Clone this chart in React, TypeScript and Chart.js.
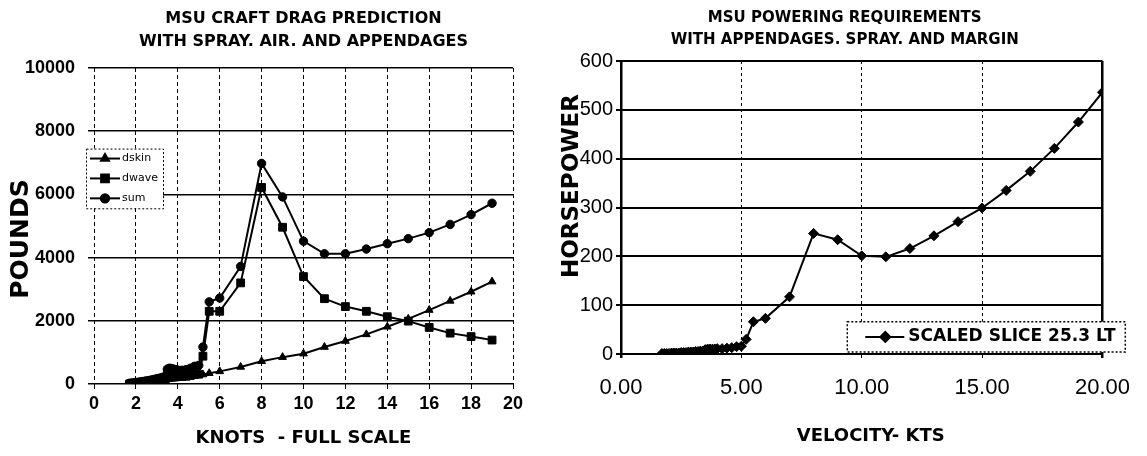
import React, { useEffect, useRef } from "react";
import { Chart, registerables } from "chart.js";
import { drawPoint } from "chart.js/helpers";

Chart.register(...registerables);

const FONT = '"DejaVu Sans", "Liberation Sans", sans-serif';
const TICK_FONT = '"Liberation Sans", Arial, sans-serif';

// ---------------- Left chart: drag prediction ----------------
const dragKnots = [1.7, 1.8, 1.9, 2.0, 2.1, 2.2, 2.3, 2.4, 2.5, 2.6, 2.7, 2.8, 2.9, 3.0, 3.1, 3.2, 3.3, 3.4, 3.5, 3.6, 3.7, 3.8, 3.9, 4.0, 4.2, 4.4, 4.6, 4.8, 5.0, 5.2, 5.5, 6, 7, 8, 9, 10, 11, 12, 13, 14, 15, 16, 17, 18, 19];
const dskin = [15, 18, 22, 25, 30, 34, 38, 42, 48, 52, 58, 62, 68, 75, 80, 86, 92, 100, 150, 160, 165, 170, 175, 180, 195, 215, 235, 255, 275, 300, 340, 400, 540, 720, 850, 960, 1170, 1360, 1570, 1810, 2060, 2340, 2630, 2920, 3240];
const dwave = [5, 8, 12, 16, 20, 25, 30, 36, 42, 48, 55, 62, 70, 80, 90, 100, 115, 130, 290, 310, 300, 285, 270, 255, 240, 245, 270, 300, 310, 880, 2300, 2300, 3200, 6220, 4960, 3400, 2700, 2450, 2300, 2130, 1990, 1790, 1610, 1500, 1390];
const dragSum = [25, 30, 38, 45, 55, 65, 75, 85, 98, 108, 120, 135, 150, 165, 180, 195, 215, 240, 470, 500, 490, 470, 455, 440, 435, 455, 500, 560, 590, 1170, 2600, 2720, 3720, 6980, 5920, 4520, 4120, 4120, 4270, 4440, 4600, 4790, 5050, 5360, 5720];
const dragSeriesNames = ["dskin", "dwave", "sum"];
const dragXTicks = [0, 2, 4, 6, 8, 10, 12, 14, 16, 18, 20];
const dragYTicks = [0, 2000, 4000, 6000, 8000, 10000];
const dragTitleLines = ["MSU CRAFT DRAG PREDICTION", "WITH SPRAY. AIR. AND APPENDAGES"];
const dragXTitle = "KNOTS  - FULL SCALE";
const dragYTitle = "POUNDS";

// ---------------- Right chart: powering requirements ----------------
const hpKnots = [1.7, 1.8, 1.9, 2.0, 2.1, 2.2, 2.3, 2.4, 2.5, 2.6, 2.7, 2.8, 2.9, 3.0, 3.1, 3.2, 3.3, 3.4, 3.5, 3.6, 3.7, 3.8, 3.9, 4.0, 4.2, 4.4, 4.6, 4.8, 5.0, 5.2, 5.5, 6, 7, 8, 9, 10, 11, 12, 13, 14, 15, 16, 17, 18, 19, 20];
const hpScaledSlice = [1, 1, 1, 1, 2, 2, 2, 2, 3, 3, 3, 4, 4, 4, 5, 5, 6, 6, 9, 10, 10, 10, 10, 11, 11, 12, 13, 15, 16, 30, 66, 73, 117, 247, 234, 201, 199, 216, 242, 271, 299, 335, 374, 421, 475, 536];
const hpSeriesName = "SCALED SLICE 25.3 LT";
const hpXTicks = [0, 5, 10, 15, 20];
const hpXTickLabels = ["0.00", "5.00", "10.00", "15.00", "20.00"];
const hpYTicks = [0, 100, 200, 300, 400, 500, 600];
const hpTitleLines = ["MSU POWERING REQUIREMENTS", "WITH APPENDAGES. SPRAY. AND MARGIN"];
const hpXTitle = "VELOCITY- KTS";
const hpYTitle = "HORSEPOWER";

const pts = (xs: number[], ys: number[]) => xs.map((x, i) => ({ x, y: ys[i] }));

function makeDragChart(canvas: HTMLCanvasElement) {
  const styles = [
    { pointStyle: "triangle", radius: 4.5 },
    { pointStyle: "rect", radius: 5.5 },
    { pointStyle: "circle", radius: 4.2 },
  ];
  const series = [dskin, dwave, dragSum];
  const textPlugin = {
    id: "dragText",
    afterDraw(chart: any) {
      const ctx = chart.ctx;
      const ca = chart.chartArea;
      const ys = chart.scales.y;
      const cx = (ca.left + ca.right) / 2;
      ctx.save();
      ctx.fillStyle = "#000";
      ctx.textAlign = "center";
      ctx.textBaseline = "middle";
      ctx.font = `bold 16px ${FONT}`;
      ctx.fillText(dragTitleLines[0], cx, 19);
      ctx.fillText(dragTitleLines[1], cx, 42);
      ctx.font = `bold 18px ${FONT}`;
      ctx.fillText(dragXTitle, cx, 438);
      ctx.save();
      ctx.translate(21, (ca.top + ca.bottom) / 2 + 13);
      ctx.rotate(-Math.PI / 2);
      ctx.font = `bold 25px ${FONT}`;
      ctx.fillText(dragYTitle, 0, 0);
      ctx.restore();

      // legend box
      const bl = ca.left - 8;
      const br = ca.left + 69;
      const bt = ys.getPixelForValue(7450);
      const bb = ys.getPixelForValue(5560);
      ctx.fillStyle = "#fff";
      ctx.fillRect(bl, bt, br - bl, bb - bt);
      ctx.strokeStyle = "#000";
      ctx.lineWidth = 1;
      ctx.setLineDash([2, 2]);
      ctx.strokeRect(bl + 0.5, bt + 0.5, br - bl, bb - bt);
      ctx.setLineDash([]);
      const fr = [1 / 6, 1 / 2, 5 / 6];
      for (let i = 0; i < 3; i++) {
        const y = bt + (bb - bt) * fr[i];
        ctx.strokeStyle = "#000";
        ctx.lineWidth = 2;
        ctx.beginPath();
        ctx.moveTo(bl + 4, y);
        ctx.lineTo(bl + 34, y);
        ctx.stroke();
        ctx.fillStyle = "#000";
        drawPoint(ctx, { pointStyle: styles[i].pointStyle as any, radius: styles[i].radius, borderWidth: 1, rotation: 0 }, bl + 19, y);
        ctx.fillStyle = "#000";
        ctx.textAlign = "left";
        ctx.textBaseline = "middle";
        ctx.font = `11px ${FONT}`;
        ctx.fillText(dragSeriesNames[i], bl + 36, y);
      }
      ctx.restore();
    },
  };

  return new Chart(canvas, {
    type: "line",
    data: {
      datasets: series.map((s, i) => ({
        label: dragSeriesNames[i],
        data: pts(dragKnots, s),
        borderColor: "#000",
        backgroundColor: "#000",
        borderWidth: 2,
        pointStyle: styles[i].pointStyle as any,
        pointRadius: styles[i].radius,
        pointBorderWidth: 1,
        tension: 0,
      })),
    },
    options: {
      responsive: false,
      animation: false,
      events: [],
      layout: { padding: { top: 68, right: 32, left: 0, bottom: 0 } },
      plugins: { legend: { display: false }, tooltip: { enabled: false }, title: { display: false } },
      scales: {
        x: {
          type: "linear",
          min: 0,
          max: 20,
          afterBuildTicks: (s: any) => {
            s.ticks = dragXTicks.map((v) => ({ value: v }));
          },
          afterFit: (s: any) => {
            s.height = 72;
          },
          ticks: {
            font: { family: TICK_FONT, size: 18, weight: "bold" },
            color: "#000",
            padding: 4,
            maxRotation: 0,
            autoSkip: false,
            callback: (v: any) => String(v),
          },
          grid: { color: "#000", lineWidth: 1, drawTicks: true, tickLength: 5, tickColor: "#000" },
          border: { display: false, dash: [4, 3] },
        },
        y: {
          type: "linear",
          min: 0,
          max: 10000,
          afterBuildTicks: (s: any) => {
            s.ticks = dragYTicks.map((v) => ({ value: v }));
          },
          afterFit: (s: any) => {
            s.width = 94;
          },
          ticks: {
            font: { family: TICK_FONT, size: 18, weight: "bold" },
            color: "#000",
            padding: 13,
            autoSkip: false,
            callback: (v: any) => String(v),
          },
          grid: { color: "#000", lineWidth: 1.5, drawTicks: true, tickLength: 6, tickColor: "#000" },
          border: { display: false },
        },
      },
    },
    plugins: [textPlugin],
  } as any);
}

function makeHpChart(canvas: HTMLCanvasElement) {
  const isEdge = (c: any) => c.tick && (c.tick.value === 0 || c.tick.value === 20);
  const textPlugin = {
    id: "hpText",
    afterDraw(chart: any) {
      const ctx = chart.ctx;
      const ca = chart.chartArea;
      const xs = chart.scales.x;
      const ys = chart.scales.y;
      const cx = (ca.left + ca.right) / 2;
      ctx.save();
      ctx.fillStyle = "#000";
      ctx.textAlign = "center";
      ctx.textBaseline = "middle";
      ctx.font = `bold 15px ${FONT}`;
      ctx.fillText(hpTitleLines[0], cx - 17, 18);
      ctx.fillText(hpTitleLines[1], cx - 17, 40);
      ctx.font = `bold 18px ${FONT}`;
      ctx.fillText(hpXTitle, cx + 9, 436);
      ctx.save();
      ctx.translate(27, 186);
      ctx.rotate(-Math.PI / 2);
      ctx.font = `bold 23px ${FONT}`;
      ctx.fillText(hpYTitle, 0, 0);
      ctx.restore();

      // legend box
      const bl = xs.getPixelForValue(9.4);
      const br = Math.min(bl + 278, chart.width - 3);
      const bt = ys.getPixelForValue(66);
      const bb = ys.getPixelForValue(4);
      ctx.fillStyle = "#fff";
      ctx.fillRect(bl, bt, br - bl, bb - bt);
      ctx.strokeStyle = "#000";
      ctx.lineWidth = 1.5;
      ctx.setLineDash([2, 2]);
      ctx.strokeRect(bl, bt, br - bl, bb - bt);
      ctx.setLineDash([]);
      const y = (bt + bb) / 2;
      ctx.lineWidth = 2;
      ctx.beginPath();
      ctx.moveTo(bl + 18, y);
      ctx.lineTo(bl + 57, y);
      ctx.stroke();
      ctx.fillStyle = "#000";
      drawPoint(ctx, { pointStyle: "rectRot", radius: 5, borderWidth: 1, rotation: 0 } as any, bl + 38, y);
      ctx.fillStyle = "#000";
      ctx.textAlign = "left";
      ctx.font = `bold 17px ${FONT}`;
      ctx.fillText(hpSeriesName, bl + 61, y);
      ctx.restore();
    },
  };

  return new Chart(canvas, {
    type: "line",
    data: {
      datasets: [
        {
          label: hpSeriesName,
          data: pts(hpKnots, hpScaledSlice),
          borderColor: "#000",
          backgroundColor: "#000",
          borderWidth: 2,
          pointStyle: "rectRot",
          pointRadius: 5,
          pointBorderWidth: 1,
          tension: 0,
        },
      ],
    },
    options: {
      responsive: false,
      animation: false,
      events: [],
      layout: { padding: { top: 61, right: 31, left: 0, bottom: 0 } },
      plugins: { legend: { display: false }, tooltip: { enabled: false }, title: { display: false } },
      scales: {
        x: {
          type: "linear",
          min: 0,
          max: 20,
          afterBuildTicks: (s: any) => {
            s.ticks = hpXTicks.map((v) => ({ value: v }));
          },
          afterFit: (s: any) => {
            s.height = 102;
          },
          ticks: {
            font: { family: TICK_FONT, size: 22 },
            color: "#000",
            padding: 17,
            maxRotation: 0,
            autoSkip: false,
            callback: (v: any) => hpXTickLabels[hpXTicks.indexOf(Number(v))] ?? "",
          },
          grid: {
            color: "#000",
            lineWidth: (c: any) => (isEdge(c) ? 2.5 : 1),
            drawTicks: true,
            tickLength: 4,
            tickColor: "#000",
          },
          border: { display: false, dash: (c: any) => (isEdge(c) ? [] : [3, 3]) },
        },
        y: {
          type: "linear",
          min: 0,
          max: 600,
          afterBuildTicks: (s: any) => {
            s.ticks = hpYTicks.map((v) => ({ value: v }));
          },
          afterFit: (s: any) => {
            s.width = 76;
          },
          ticks: {
            font: { family: TICK_FONT, size: 20 },
            color: "#000",
            padding: 3,
            autoSkip: false,
            callback: (v: any) => String(v),
          },
          grid: { color: "#000", lineWidth: 2, drawTicks: true, tickLength: 5, tickColor: "#000" },
          border: { display: false },
        },
      },
    },
    plugins: [textPlugin],
  } as any);
}

export default function App() {
  const leftRef = useRef<HTMLCanvasElement>(null);
  const rightRef = useRef<HTMLCanvasElement>(null);

  useEffect(() => {
    const charts = [makeDragChart(leftRef.current!), makeHpChart(rightRef.current!)];
    return () => charts.forEach((c) => c.destroy());
  }, []);

  return (
    <div style={{ position: "absolute", left: 0, top: 0, width: 1147, height: 456, background: "#fff", overflow: "hidden" }}>
      <canvas ref={leftRef} width={545} height={456} style={{ position: "absolute", left: 0, top: 0 }} />
      <canvas ref={rightRef} width={602} height={456} style={{ position: "absolute", left: 545, top: 0 }} />
    </div>
  );
}
